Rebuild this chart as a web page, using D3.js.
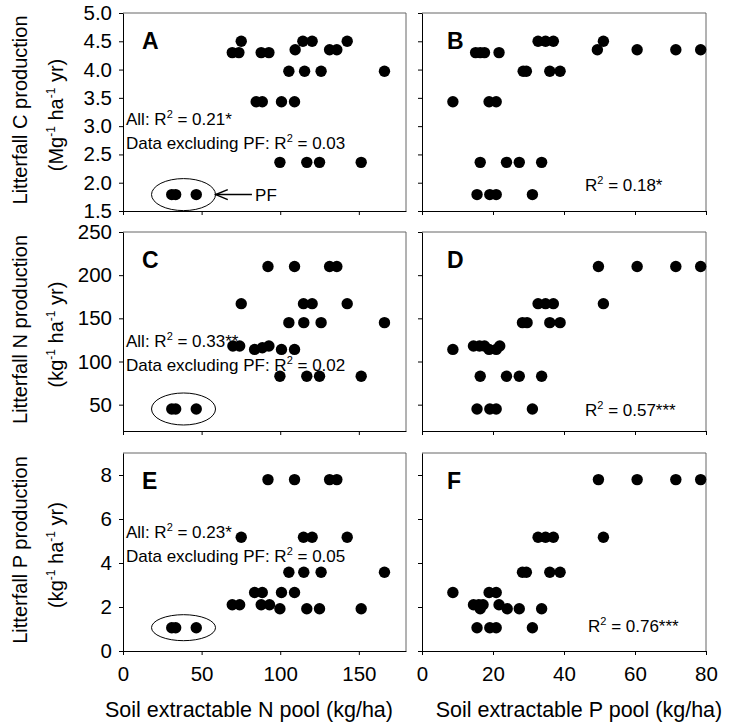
<!DOCTYPE html>
<html><head><meta charset="utf-8">
<script src="https://cdn.jsdelivr.net/npm/d3@7"></script>
<style>body{margin:0;background:#fff;} text{font-family:"Liberation Sans",Arial,sans-serif;}</style>
</head><body><svg id="c" width="730" height="728"></svg>
<script>
// ---- data ----
const nTicks = [0, 50, 100, 150];
const pTicks = [0, 20, 40, 60, 80];
const cTicks = [1.5, 2.0, 2.5, 3.0, 3.5, 4.0, 4.5, 5.0];
const nProdTicks = [50, 100, 150, 200, 250];
const pProdTicks = [0, 2, 4, 6, 8];

const panelA_x = [69.5,73.7,75.2,87.9,92.8,109.5,114.4,120.3,131.4,136,142.6,105.5,115.5,126,166.3,84.7,88.6,100.8,109.1,99.8,116.9,125,151.5,31.0,33.5,46.6];
const panelA_y = [4.30,4.30,4.50,4.30,4.30,4.35,4.50,4.50,4.35,4.35,4.50,3.97,3.97,3.97,3.97,3.43,3.43,3.43,3.43,2.36,2.36,2.36,2.36,1.79,1.79,1.79];
const panelB_x = [15.1,16.4,17.6,21.7,32.7,34.8,37.0,49.4,51.1,60.6,71.5,78.5,28.5,29.4,36.0,38.9,8.7,18.9,20.9,16.4,23.8,27.4,33.7,15.5,19.1,20.9,31.1];
const panelB_y = [4.30,4.30,4.30,4.30,4.50,4.50,4.50,4.35,4.50,4.35,4.35,4.35,3.97,3.97,3.97,3.97,3.43,3.43,3.43,2.36,2.36,2.36,2.36,1.79,1.79,1.79,1.79];
const panelC_x = [92.2,109.1,131.4,136,75.2,114.8,120.3,142.6,105.5,115,126,166.3,69.9,74.2,83.7,88.6,92.8,100.8,109.1,99.8,116.9,125,151.5,31.0,33.5,46.6];
const panelC_y = [210,210,210,210,167,167,167,167,145,145,145,145,118,118,114,116,118,114,114,83,83,83,83,45,45,45];
const panelD_x = [49.7,60.6,71.5,78.5,32.7,34.8,37.0,51.1,28.3,29.6,36.0,38.9,8.7,14.5,16.2,17.6,18.9,20.9,21.9,16.4,23.8,27.4,33.7,15.5,19.1,20.9,31.1];
const panelD_y = [210,210,210,210,167,167,167,167,145,145,145,145,114,118,118,118,114,114,118,83,83,83,83,45,45,45,45];
const panelE_x = [92.2,109.1,131.4,136,75.2,114.8,120.3,142.6,105.5,115,126,166.3,83.7,88.6,100.8,109.1,69.5,74.2,87.9,93.2,99.8,116.9,125,151.5,31.0,33.5,46.6];
const panelE_y = [7.79,7.79,7.79,7.79,5.17,5.17,5.17,5.17,3.58,3.58,3.58,3.58,2.66,2.66,2.66,2.66,2.10,2.10,2.10,2.10,1.92,1.92,1.92,1.92,1.06,1.06,1.06];
const panelF_x = [49.7,60.6,71.5,78.5,32.7,34.8,37.0,51.1,28.3,29.4,36.0,38.9,8.7,18.9,20.9,14.5,16.0,17.2,16.4,21.7,24.0,27.4,33.7,15.5,19.1,20.9,31.1];
const panelF_y = [7.79,7.79,7.79,7.79,5.17,5.17,5.17,5.17,3.58,3.58,3.58,3.58,2.66,2.66,2.66,2.10,2.10,2.10,1.92,2.10,1.92,1.92,1.92,1.06,1.06,1.06,1.06];

const pfY = {A: 1.79, C: 45, E: 1.06};

// ---- layout ----
const svg = d3.select("#c");
const cols = [{x0:123,x1:406},{x0:422,x1:706}];
const rows = [{y0:13,y1:211},{y0:232,y1:431},{y0:453,y1:651}];

const xN = d3.scaleLinear().domain([0,180]).range([cols[0].x0, cols[0].x1]);
const xP = d3.scaleLinear().domain([0,80]).range([cols[1].x0, cols[1].x1]);
const yC = d3.scaleLinear().domain([1.5,5.0]).range([rows[0].y1, rows[0].y0]);
const yN = d3.scaleLinear().domain([19.5,250]).range([rows[1].y1, rows[1].y0]);
const yP = d3.scaleLinear().domain([0,9]).range([rows[2].y1, rows[2].y0]);

const panels = [
  {id:"A", xs:xN, ys:yC, px:panelA_x, py:panelA_y, col:0, row:0, xt:nTicks, yt:cTicks, yfmt:d3.format(".1f"), xlab:false, ylab:true},
  {id:"B", xs:xP, ys:yC, px:panelB_x, py:panelB_y, col:1, row:0, xt:pTicks, yt:cTicks, yfmt:null, xlab:false, ylab:false},
  {id:"C", xs:xN, ys:yN, px:panelC_x, py:panelC_y, col:0, row:1, xt:nTicks, yt:nProdTicks, yfmt:d3.format("d"), xlab:false, ylab:true},
  {id:"D", xs:xP, ys:yN, px:panelD_x, py:panelD_y, col:1, row:1, xt:pTicks, yt:nProdTicks, yfmt:null, xlab:false, ylab:false},
  {id:"E", xs:xN, ys:yP, px:panelE_x, py:panelE_y, col:0, row:2, xt:nTicks, yt:pProdTicks, yfmt:d3.format("d"), xlab:true, ylab:true},
  {id:"F", xs:xP, ys:yP, px:panelF_x, py:panelF_y, col:1, row:2, xt:pTicks, yt:pProdTicks, yfmt:null, xlab:true, ylab:false}
];

panels.forEach(p => {
  const c = cols[p.col], r = rows[p.row];
  const g = svg.append("g");
  g.append("path").attr("d", `M${c.x0},${r.y0}H${c.x1}V${r.y1}`)
    .attr("fill","none").attr("stroke","#666").attr("stroke-width",1);
  const xa = d3.axisBottom(p.xs).tickValues(p.xt).tickSizeInner(4).tickSizeOuter(0).tickPadding(11);
  if (!p.xlab) xa.tickFormat(() => "");
  const gx = g.append("g").attr("transform", `translate(0,${r.y1})`).call(xa);
  const ya = d3.axisLeft(p.ys).tickValues(p.yt).tickSizeInner(4).tickSizeOuter(0).tickPadding(7);
  ya.tickFormat(p.ylab ? p.yfmt : () => "");
  const gy = g.append("g").attr("transform", `translate(${c.x0},0)`).call(ya);
  [gx, gy].forEach(a => {
    a.selectAll("path.domain").attr("stroke","#000");
    a.selectAll("line").attr("stroke","#000");
    a.selectAll("text").attr("font-size",20.5).attr("fill","#000").attr("font-family","Liberation Sans, Arial, sans-serif");
  });
  g.selectAll("circle.pt").data(d3.range(p.px.length)).join("circle")
    .attr("class","pt").attr("cx", i => p.xs(p.px[i])).attr("cy", i => p.ys(p.py[i]))
    .attr("r", 5.7).attr("fill","#000");
  g.append("text").attr("x", c.x0 + (p.col === 0 ? 19 : 25)).attr("y", r.y0 + 36)
    .attr("font-size", 23).attr("font-weight","bold").text(p.id);
});

function r2(x, y, prefix, val) {
  const t = svg.append("text").attr("x", x).attr("y", y).attr("font-size", 17).attr("fill","#000");
  t.append("tspan").text(prefix + "R");
  t.append("tspan").attr("font-size", 11).attr("dy", -7).text("2");
  t.append("tspan").attr("dy", 7).text(" = " + val);
}
r2(126, 125, "All: ", "0.21*");
r2(126, 149, "Data excluding PF: ", "0.03");
r2(126, 347, "All: ", "0.33**");
r2(126, 371, "Data excluding PF: ", "0.02");
r2(126, 538, "All: ", "0.23*");
r2(126, 562, "Data excluding PF: ", "0.05");
r2(585, 191, "", "0.18*");
r2(585, 416, "", "0.57***");
r2(588, 632, "", "0.76***");

const ell = [{s:yC, v:pfY.A, ry:16}, {s:yN, v:pfY.C, ry:16}, {s:yP, v:pfY.E, ry:13}];
ell.forEach(e => {
  svg.append("ellipse").attr("cx", xN(38.5)).attr("cy", e.s(e.v)).attr("rx", 32).attr("ry", e.ry)
    .attr("fill","none").attr("stroke","#000").attr("stroke-width",1);
});
const ay = yC(pfY.A);
svg.append("line").attr("x1", xN(59)).attr("x2", xN(82)).attr("y1", ay).attr("y2", ay).attr("stroke","#000").attr("stroke-width",1.5);
svg.append("path").attr("d", `M${xN(59)+12},${ay-5}L${xN(59)},${ay}L${xN(59)+12},${ay+5}`)
  .attr("fill","none").attr("stroke","#000").attr("stroke-width",1.5);
svg.append("text").attr("x", xN(84)).attr("y", ay + 6).attr("font-size", 17).text("PF");

const ytitles = [
  {l1:"Litterfall C production", u:["(Mg","-1"," ha","-1"," yr)"], row:0},
  {l1:"Litterfall N production", u:["(kg","-1"," ha","-1"," yr)"], row:1},
  {l1:"Litterfall P production", u:["(kg","-1"," ha","-1"," yr)"], row:2}
];
ytitles.forEach(t => {
  const cy = (rows[t.row].y0 + rows[t.row].y1) / 2;
  svg.append("text").attr("transform", `translate(27,${cy - 2}) rotate(-90)`).attr("text-anchor","middle")
    .attr("font-size", 20).text(t.l1);
  const tt = svg.append("text").attr("transform", `translate(63,${cy + 3}) rotate(-90)`).attr("text-anchor","middle")
    .attr("font-size", 20);
  t.u.forEach((s, i) => {
    const sup = (i % 2 === 1);
    tt.append("tspan").attr("font-size", sup ? 12 : 20).attr("dy", sup ? -8 : (i === 0 ? 0 : 8)).text(s);
  });
});
svg.append("text").attr("x", 249).attr("y", 717).attr("text-anchor","middle").attr("font-size",21.5).text("Soil extractable N pool (kg/ha)");
svg.append("text").attr("x", 579).attr("y", 717).attr("text-anchor","middle").attr("font-size",21.5).text("Soil extractable P pool (kg/ha)");
</script></body></html>
